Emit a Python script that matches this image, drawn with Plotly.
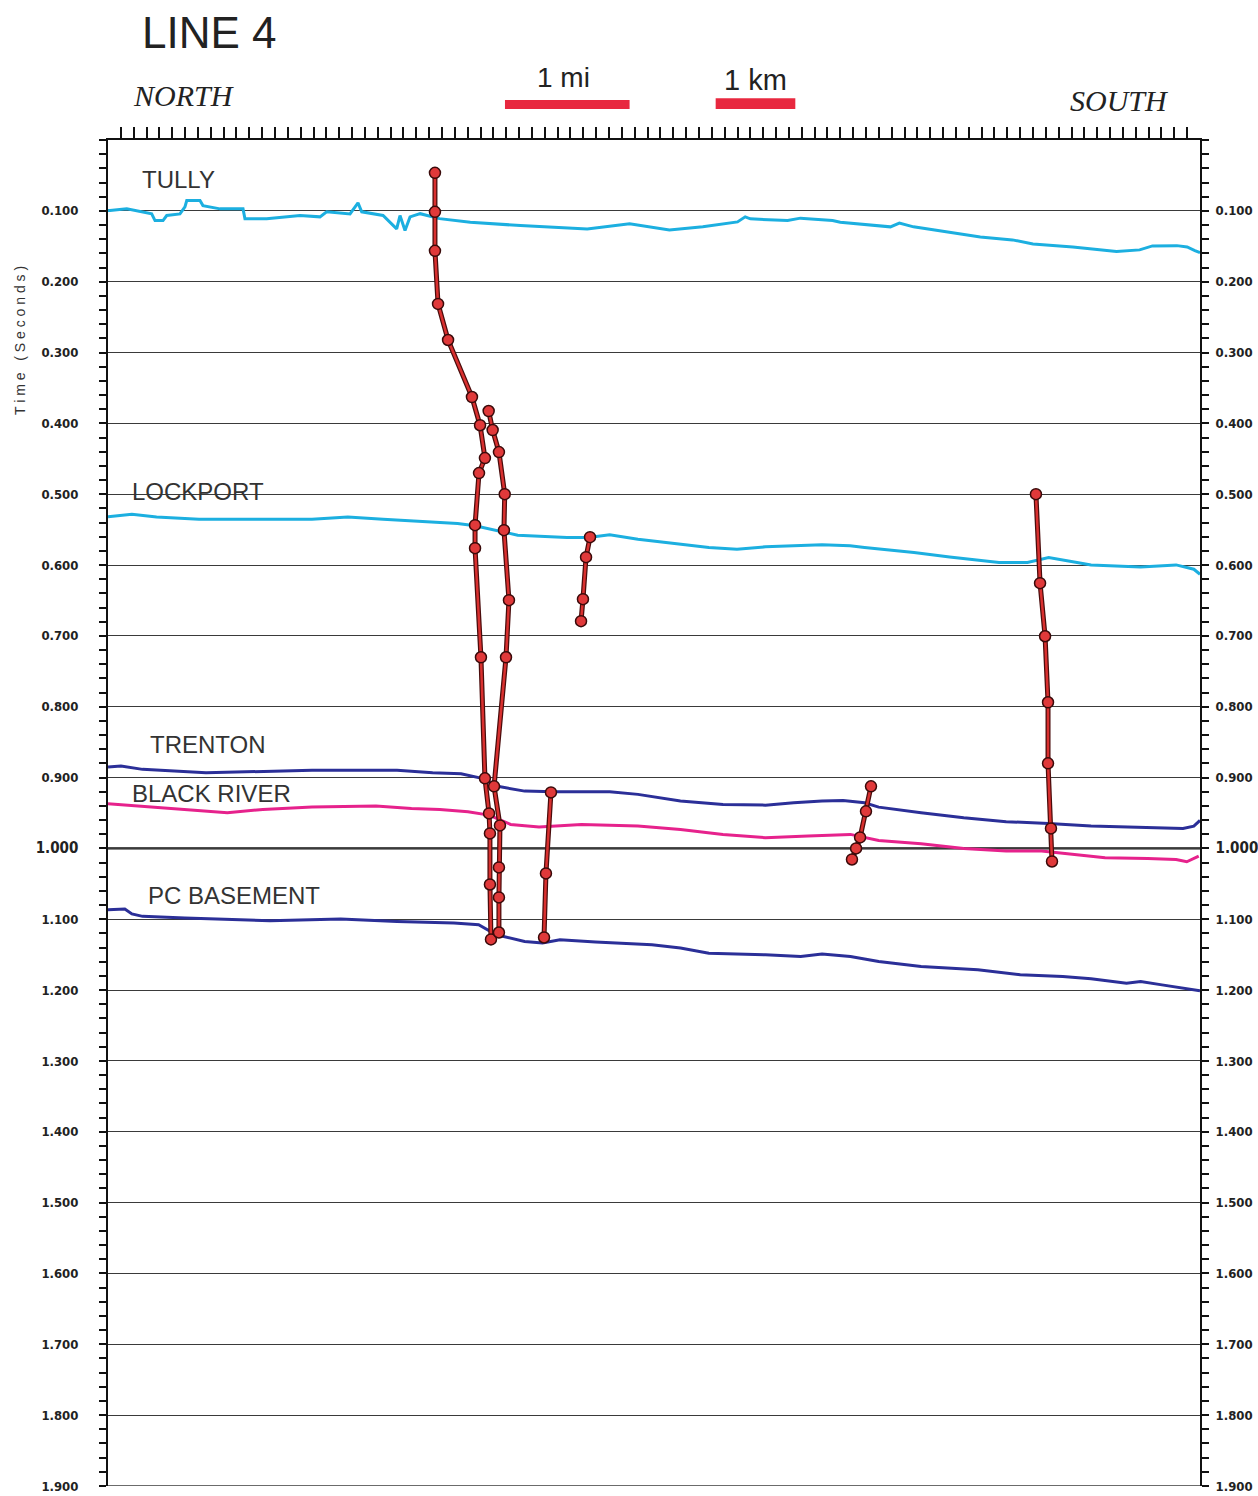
import plotly.graph_objects as go

# Seismic line 4: interpreted horizons (two-way time, s) and faults vs. station index
TULLY_X = [0.0, 0.16, 1.46, 2.49, 3.40, 3.66, 4.28, 4.57, 5.60, 5.99, 6.13, 7.16, 7.39, 8.72,
           10.51, 10.66, 12.35, 14.95, 16.5, 17.02, 18.84, 19.46, 19.75, 21.41, 22.47, 22.73,
           23.12, 23.51, 24.3, 25.8, 28.2, 32.1, 37.3, 40.6, 43.7, 46.3, 49.0, 49.6, 50.0,
           52.9, 53.9, 56.4, 57.0, 60.9, 61.6, 62.7, 64.8, 67.9, 70.4, 72.0, 75.1, 77.2, 78.5,
           80.3, 81.3, 83.2, 84.0, 84.6, 85.0]
TULLY_T = [0.0996, 0.0996, 0.0972, 0.1014, 0.1043, 0.1137, 0.1137, 0.1066, 0.1043, 0.0944,
           0.0855, 0.0855, 0.0926, 0.0972, 0.0972, 0.1113, 0.1113, 0.1066, 0.1085, 0.1014,
           0.1043, 0.0887, 0.1014, 0.1066, 0.1255, 0.1066, 0.1277, 0.1085, 0.104, 0.111,
           0.116, 0.1208, 0.1255, 0.1184, 0.1269, 0.1226, 0.1156, 0.1085, 0.1113, 0.1137,
           0.1103, 0.1137, 0.116, 0.1226, 0.1174, 0.1226, 0.1279, 0.1368, 0.141, 0.1467,
           0.1509, 0.1547, 0.1575, 0.1551, 0.1495, 0.1491, 0.1509, 0.1561, 0.159]

LOCKPORT_X = [0.0, 1.86, 3.78, 7.08, 15.88, 18.67, 21.41, 25.83, 27.21, 28.57, 30.23, 31.89,
              35.73, 37.40, 39.05, 41.25, 43.43, 46.77, 48.96, 51.17, 55.58, 57.76, 58.89,
              62.74, 65.51, 69.36, 71.57, 73.22, 75.43, 76.52, 80.38, 83.14, 84.52, 85.0]
LOCKPORT_T = [0.532, 0.5282, 0.532, 0.5352, 0.5352, 0.532, 0.5352, 0.539, 0.5412, 0.5446,
              0.5517, 0.5578, 0.561, 0.561, 0.5574, 0.5635, 0.5682, 0.5753, 0.5776, 0.5743,
              0.5715, 0.5729, 0.5753, 0.5823, 0.5885, 0.5965, 0.5965, 0.5894, 0.5965, 0.5998,
              0.6026, 0.5998, 0.6059, 0.613]

TRENTON_X = [0.0, 1.01, 2.69, 7.63, 15.88, 22.50, 25.27, 27.48, 29.11, 30.23, 32.43, 34.64,
             39.05, 41.25, 44.56, 47.87, 51.17, 53.37, 55.58, 57.22, 58.89, 59.99, 63.29,
             66.61, 69.91, 73.22, 76.52, 79.28, 82.04, 83.68, 84.52, 85.0]
TRENTON_T = [0.8851, 0.8837, 0.8884, 0.8931, 0.8898, 0.8898, 0.8931, 0.8945, 0.9011, 0.912,
             0.9191, 0.92, 0.92, 0.9237, 0.9332, 0.9379, 0.9389, 0.9355, 0.9332, 0.9322,
             0.9355, 0.9417, 0.9496, 0.9567, 0.9623, 0.9647, 0.9685, 0.9699, 0.9708, 0.9718,
             0.9685, 0.9605]

BLACK_RIVER_X = [0.0, 2.69, 5.99, 9.29, 12.05, 15.88, 20.86, 23.62, 25.83, 28.02, 29.66, 31.34,
                 33.55, 36.85, 41.25, 44.56, 47.87, 51.17, 54.49, 57.79, 59.99, 63.29, 66.61,
                 69.91, 72.67, 75.43, 77.61, 80.93, 83.14, 83.97, 84.90]
BLACK_RIVER_T = [0.9368, 0.9402, 0.9449, 0.9496, 0.9449, 0.9416, 0.9402, 0.9435, 0.9449, 0.9482,
                 0.953, 0.9661, 0.9699, 0.9661, 0.9685, 0.9732, 0.9802, 0.9849, 0.9826, 0.9802,
                 0.9887, 0.9934, 1.0, 1.0038, 1.0038, 1.0085, 1.0132, 1.0141, 1.0156, 1.0188,
                 1.0109]

PC_BASEMENT_X = [0.0, 1.31, 1.86, 2.69, 5.99, 12.61, 18.11, 22.50, 26.93, 28.85, 30.23, 32.43,
                 33.82, 35.18, 37.95, 42.34, 44.56, 46.77, 51.17, 53.92, 55.58, 57.79, 59.99,
                 63.29, 67.71, 71.01, 74.32, 76.52, 79.28, 80.38, 82.04, 83.68, 85.0]
PC_BASEMENT_T = [1.0864, 1.0855, 1.0925, 1.0959, 1.0982, 1.102, 1.0997, 1.1031, 1.1054, 1.1078,
                 1.1219, 1.1314, 1.1336, 1.1289, 1.1322, 1.136, 1.1407, 1.1478, 1.1502, 1.1526,
                 1.1492, 1.1526, 1.1596, 1.1667, 1.1714, 1.1784, 1.1808, 1.1841, 1.1902, 1.1879,
                 1.1926, 1.1972, 1.201]

# Fault picks (station, time)
FAULT_MAIN_W_X = [25.45, 25.45, 25.45, 25.69, 26.47, 28.33, 28.96, 29.34, 28.88, 28.57, 28.57,
                  29.03, 29.34, 29.66, 29.73, 29.73, 29.81]
FAULT_MAIN_W_T = [0.0463, 0.1014, 0.1565, 0.2314, 0.2823, 0.3628, 0.4026, 0.449, 0.4702, 0.5437,
                  0.5762, 0.7302, 0.9011, 0.9506, 0.9788, 1.0509, 1.1285]
FAULT_MAIN_E_X = [29.63, 29.94, 30.43, 30.88, 30.82, 31.21, 30.98, 30.05, 30.51, 30.43, 30.43, 30.43]
FAULT_MAIN_E_T = [0.3826, 0.4094, 0.4405, 0.4999, 0.5507, 0.6496, 0.7302, 0.9124, 0.9675, 1.0268,
                  1.0692, 1.1187]
FAULT_B_X = [37.52, 37.21, 36.97, 36.82]
FAULT_B_T = [0.5606, 0.5889, 0.6482, 0.6792]
FAULT_C_X = [34.48, 34.09, 33.94]
FAULT_C_T = [0.9209, 1.0353, 1.1257]
FAULT_D_X = [59.39, 59.00, 58.54, 58.23, 57.91]
FAULT_D_T = [0.9124, 0.9477, 0.9845, 1.0, 1.0156]
FAULT_E_X = [72.23, 72.55, 72.94, 73.17, 73.17, 73.40, 73.48]
FAULT_E_T = [0.4999, 0.6256, 0.7005, 0.7937, 0.8799, 0.9718, 1.0184]

TIME_TICKS = [0.1, 0.2, 0.3, 0.4, 0.5, 0.6, 0.7, 0.8, 0.9, 1.0,
              1.1, 1.2, 1.3, 1.4, 1.5, 1.6, 1.7, 1.8, 1.9]
STATION_TICKS = list(range(1, 85))

HORIZON_LABELS = [("TULLY", 2.49, 0.056), ("LOCKPORT", 1.71, 0.4956), ("TRENTON", 3.11, 0.8531),
                  ("BLACK RIVER", 1.71, 0.9224), ("PC BASEMENT", 2.96, 1.0665)]

CYAN = "#1cafe0"
NAVY = "#2b2f98"
MAGENTA = "#e6228c"
FAULT_RED = "#d9302f"
FAULT_DARK = "#4a0c0c"
BAR_RED = "#e8283f"
TICK_FONT = "DejaVu Sans Condensed, Liberation Sans Narrow, Arial Narrow, sans-serif"

fig = go.Figure()

for xs, ts, col in [(TULLY_X, TULLY_T, CYAN), (LOCKPORT_X, LOCKPORT_T, CYAN),
                    (TRENTON_X, TRENTON_T, NAVY), (BLACK_RIVER_X, BLACK_RIVER_T, MAGENTA),
                    (PC_BASEMENT_X, PC_BASEMENT_T, NAVY)]:
    fig.add_trace(go.Scatter(x=xs, y=ts, mode="lines", line=dict(color=col, width=3),
                             showlegend=False, hoverinfo="skip"))

for xs, ts in [(FAULT_MAIN_W_X, FAULT_MAIN_W_T), (FAULT_MAIN_E_X, FAULT_MAIN_E_T),
               (FAULT_B_X, FAULT_B_T), (FAULT_C_X, FAULT_C_T), (FAULT_D_X, FAULT_D_T),
               (FAULT_E_X, FAULT_E_T)]:
    fig.add_trace(go.Scatter(x=xs, y=ts, mode="lines", line=dict(color=FAULT_DARK, width=5),
                             showlegend=False, hoverinfo="skip"))
    fig.add_trace(go.Scatter(x=xs, y=ts, mode="lines+markers",
                             line=dict(color=FAULT_RED, width=2.5),
                             marker=dict(size=11, color="#e0393a",
                                         line=dict(color="#3a0a0a", width=1.5)),
                             showlegend=False, hoverinfo="skip"))

# invisible trace so the right-hand time axis is drawn
fig.add_trace(go.Scatter(x=[0, 85], y=[0, 1.9], yaxis="y2", mode="markers",
                         marker=dict(opacity=0), showlegend=False, hoverinfo="skip"))


def tick_text(v):
    s = f"{v:.3f}"
    if abs(v - 1.0) < 1e-9:
        return f"<span style='font-size:15px'>{s}</span>"
    return s


ticktext = [tick_text(v) for v in TIME_TICKS]

yaxis_common = dict(
    range=[1.9, 0], tickvals=TIME_TICKS, ticktext=ticktext, ticks="outside", ticklen=7,
    tickwidth=1.5, tickcolor="#111", showline=True, linecolor="#111", linewidth=2,
    zeroline=False, automargin=False,
    tickfont=dict(family=TICK_FONT, size=13, color="#222", weight="bold"),
    minor=dict(dtick=0.02, tick0=0, ticks="outside", ticklen=7, tickwidth=1.5,
               tickcolor="#111", showgrid=False),
)

fig.update_layout(
    width=1258, height=1496,
    margin=dict(l=108, r=58, t=140, b=10),
    paper_bgcolor="white", plot_bgcolor="white",
    xaxis=dict(range=[0, 85], side="top", showline=True, linecolor="#111", linewidth=2,
               ticks="outside", tickvals=STATION_TICKS, ticklen=11, tickwidth=2,
               tickcolor="#111", showticklabels=False, showgrid=False, zeroline=False,
               automargin=False),
    yaxis=dict(**yaxis_common, showgrid=True, gridcolor="#3a3a3a", gridwidth=1.2,
               ticklabelstandoff=18),
    yaxis2=dict(**yaxis_common, overlaying="y", side="right", anchor="x", showgrid=False,
                ticklabelstandoff=4),
)

# heavier 1.000 s line
fig.add_shape(type="line", xref="paper", x0=0, x1=1, yref="y", y0=1.0, y1=1.0,
              line=dict(color="#111", width=2.2), layer="below")
# bottom time line at 1.900 s
fig.add_shape(type="line", xref="paper", x0=0, x1=1, yref="y", y0=1.9, y1=1.9,
              line=dict(color="#3a3a3a", width=1.5), layer="below")

# scale bars
fig.add_shape(type="rect", xref="x", x0=30.9, x1=40.6, yref="paper", y0=1.0230, y1=1.0297,
              fillcolor=BAR_RED, line=dict(width=0))
fig.add_shape(type="rect", xref="x", x0=47.3, x1=53.5, yref="paper", y0=1.0230, y1=1.0310,
              fillcolor=BAR_RED, line=dict(width=0))

SANS = "Liberation Sans, Arial, sans-serif"
SERIF = "Liberation Serif, Times New Roman, serif"
fig.add_annotation(text="LINE 4", xref="paper", yref="paper", x=0.0293, y=1.0802,
                   xanchor="left", yanchor="middle", showarrow=False,
                   font=dict(family=SANS, size=44, color="#222"))
fig.add_annotation(text="<i>NORTH</i>", xref="paper", yref="paper", x=0.0211, y=1.0327,
                   xanchor="left", yanchor="middle", showarrow=False,
                   font=dict(family=SERIF, size=30, color="#222"))
fig.add_annotation(text="<i>SOUTH</i>", xref="paper", yref="paper", x=0.879, y=1.029,
                   xanchor="left", yanchor="middle", showarrow=False,
                   font=dict(family=SERIF, size=30, color="#222"))
fig.add_annotation(text="1 mi", xref="paper", yref="paper", x=0.391, y=1.0461,
                   xanchor="left", yanchor="middle", showarrow=False,
                   font=dict(family=SANS, size=28, color="#222"))
fig.add_annotation(text="1 km", xref="paper", yref="paper", x=0.5623, y=1.0446,
                   xanchor="left", yanchor="middle", showarrow=False,
                   font=dict(family=SANS, size=29, color="#222"))
fig.add_annotation(text="T i m e   ( S e c o n d s )", xref="paper", yref="paper",
                   x=-0.0806, y=0.8514, textangle=-90, showarrow=False,
                   xanchor="center", yanchor="middle",
                   font=dict(family=SANS, size=14, color="#333"))

for name, sx, st in HORIZON_LABELS:
    fig.add_annotation(text=name, xref="x", yref="y", x=sx, y=st, xanchor="left",
                       yanchor="middle", showarrow=False,
                       font=dict(family=SANS, size=24, color="#333"))

fig.write_html("out.html")
